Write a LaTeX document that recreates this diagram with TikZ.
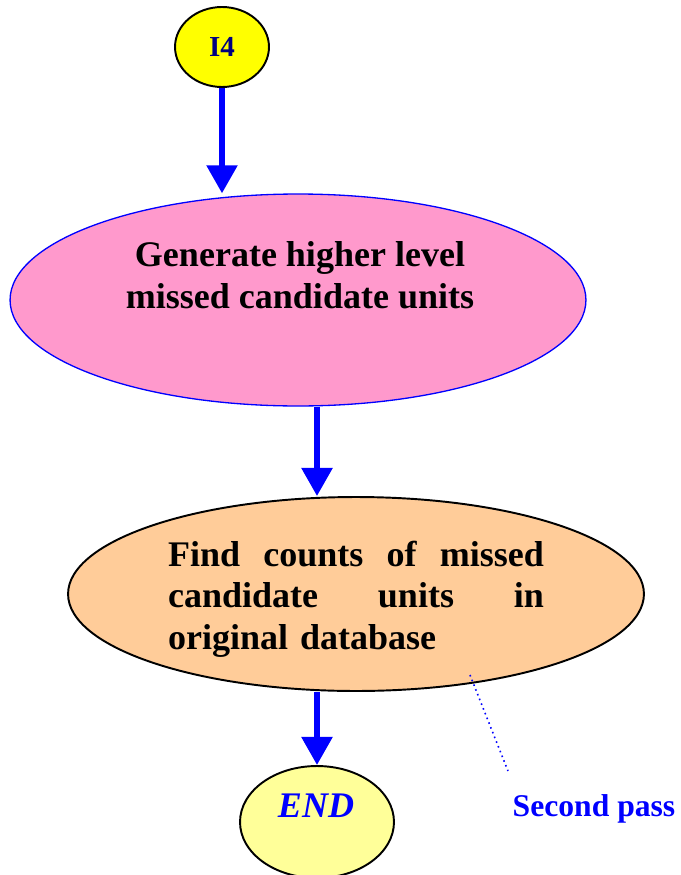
\documentclass[tikz,border=0pt]{standalone}
\usepackage{fontspec}
\setmainfont{Liberation Serif}
\usetikzlibrary{positioning, arrows.meta, shapes.geometric}
\definecolor{fcblue}{HTML}{0000FF}
\definecolor{fcnavy}{HTML}{000080}
\definecolor{fcyellow}{HTML}{FFFF00}
\definecolor{fcpink}{HTML}{FF99CC}
\definecolor{fcpeach}{HTML}{FFCC99}
\definecolor{fcpale}{HTML}{FFFF99}

\begin{document}
\begin{tikzpicture}[
    x=0.02cm, y=-0.02cm,
    >={Triangle[width=17pt, length=16pt]},
    flow/.style={draw=fcblue, line width=3.4pt, ->},
    blob/.style={ellipse, draw=black, line width=1.1pt, inner sep=0pt},
    body/.style={font=\fontsize{20.5}{23.6}\selectfont\bfseries},
    note/.style={font=\fontsize{18}{21}\selectfont\bfseries, text=fcblue},
  ]
  \useasboundingbox (0,0) rectangle (680,875);

  % ----- start connector I4 -----
  \node[blob, fill=fcyellow, minimum width=1.88cm, minimum height=1.6cm,
        font=\fontsize{16.5}{19}\selectfont\bfseries, text=fcnavy] (i4) at (222,47) {I4};

  % ----- generate step, pink -----
  \node[blob, draw=fcblue, line width=0.75pt, fill=fcpink,
        minimum width=11.52cm, minimum height=4.24cm] (gen) at (298,300) {};
  \node[body, align=center] (gentxt) at (300,275) {Generate higher level\\missed candidate units};

  % ----- count step, peach -----
  \node[blob, fill=fcpeach, minimum width=11.52cm, minimum height=3.88cm] (find) at (356,594) {};
  \node[body, align=left, text width=214pt] (findtxt) at (356,599)
    {\makebox[214pt]{Find\hfill counts\hfill of\hfill missed}\\
     \makebox[214pt]{candidate\hfill units\hfill in}\\
     original database};

  % ----- end -----
  \node[blob, fill=fcpale, minimum width=3.08cm, minimum height=2.24cm] (endn) at (317,822) {};
  \node[body, font=\fontsize{20.5}{23.6}\selectfont\bfseries\itshape, text=fcblue] (endtxt) at (316,806) {END};

  % ----- second pass callout -----
  \node[note] (pass) at (594,809) {Second pass};
  \coordinate (callin) at (470,675);
  \coordinate (callout) at (508,771);

  % ----- wiring -----
  \draw[flow] (i4.south) -- (i4.south |- gen.north);     % I4 -> generate
  \draw[flow] (gen.south -| endn) -- (endn |- find.north); % generate -> counts
  \draw[flow] (find.south -| endn) -- (endn.north);        % counts -> END
  \draw[fcblue, dotted, line width=0.9pt] (callin) -- (callout);

\end{tikzpicture}
\end{document}
